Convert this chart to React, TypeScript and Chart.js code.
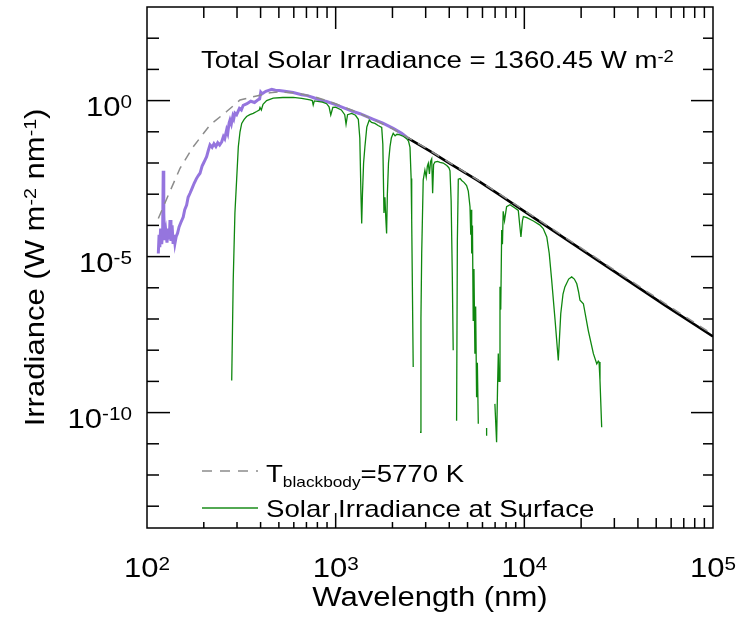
import React, { useEffect, useRef } from "react";
import { Chart, registerables } from "chart.js";

Chart.register(...registerables);

// ---- Data (in log10 units of nm and W m^-2 nm^-1) ----
const toaLog10Wavelength = [
  2.060, 2.064, 2.068, 2.072, 2.078, 2.083, 2.086, 2.089, 2.093, 2.100, 2.106, 2.112, 2.118, 2.122,
  2.127, 2.133, 2.138, 2.143, 2.148, 2.155, 2.162, 2.170, 2.180, 2.192, 2.200, 2.210, 2.218, 2.228,
  2.240, 2.250, 2.262, 2.272, 2.281, 2.292, 2.300, 2.308, 2.316, 2.325, 2.334, 2.345, 2.355, 2.365,
  2.375, 2.385, 2.396, 2.405, 2.412, 2.422, 2.428, 2.435, 2.440, 2.447, 2.455, 2.460, 2.466, 2.475,
  2.490, 2.500, 2.510, 2.530, 2.550, 2.570, 2.590, 2.597, 2.603, 2.610, 2.630, 2.645, 2.661, 2.680,
  2.700, 2.730, 2.775, 2.820, 2.850, 2.880, 2.917, 2.952, 3.000, 3.050, 3.093, 3.129, 3.200, 3.250,
  3.305, 3.350, 3.385,
];
const toaLog10Irradiance = [
  -4.90, -4.30, -4.70, -4.10, -4.60, -4.20, -2.25, -3.60, -4.47, -4.20, -4.55, -4.10, -4.45, -3.83,
  -4.50, -4.00, -4.55, -4.30, -4.58, -4.35, -4.25, -4.05, -3.90, -3.73, -3.50, -3.35, -3.10, -2.97,
  -2.80, -2.65, -2.50, -2.40, -2.33, -2.10, -2.00, -1.90, -1.80, -1.60, -1.42, -1.50, -1.38, -1.47,
  -1.35, -1.42, -1.32, -1.15, -1.22, -0.94, -1.05, -0.72, -0.62, -0.75, -0.50, -0.58, -0.40, -0.45,
  -0.25, -0.30, -0.15, -0.10, -0.02, -0.06, 0.03, 0.05, 0.27, 0.22, 0.30, 0.33, 0.36, 0.33,
  0.32, 0.30, 0.26, 0.19, 0.16, 0.10, 0.02, -0.03, -0.13, -0.25, -0.35, -0.42, -0.60, -0.72,
  -0.89, -1.05, -1.21,
];

const extLog10Wavelength = [3.385, 3.5, 3.606, 3.75, 3.871, 4.0, 4.25, 4.5, 4.75, 5.0];
const extLog10Irradiance = [-1.21, -1.62, -2.02, -2.55, -3.03, -3.55, -4.56, -5.57, -6.58, -7.56];

const bbLog10Wavelength = [
  2.060, 2.113, 2.175, 2.245, 2.334, 2.422, 2.493, 2.581, 2.652, 2.700, 2.800, 2.900, 3.000,
  3.100, 3.200, 3.300, 3.385, 3.500, 3.606, 3.750, 3.871, 4.000, 4.250, 4.500, 4.750, 5.000,
];
const bbLog10Irradiance = [
  -3.78, -3.03, -2.17, -1.48, -0.78, -0.35, 0.02, 0.15, 0.25, 0.28, 0.24, 0.10, -0.10,
  -0.34, -0.61, -0.90, -1.19, -1.60, -2.00, -2.53, -3.00, -3.52, -4.52, -5.52, -6.52, -7.50,
];

const surfaceLog10Wavelength = [
  2.449, 2.457, 2.466, 2.475, 2.484, 2.493, 2.502, 2.515, 2.528, 2.545, 2.563, 2.581, 2.595, 2.599,
  2.606, 2.615, 2.634, 2.669, 2.720, 2.775, 2.820, 2.864, 2.876, 2.881, 2.887, 2.930, 2.952, 2.965,
  2.974, 2.985, 3.000, 3.030, 3.048, 3.055, 3.063, 3.085, 3.105, 3.120, 3.128, 3.134, 3.138, 3.142,
  3.148, 3.155, 3.165, 3.178, 3.190, 3.208, 3.225, 3.244, 3.250, 3.256, 3.261, 3.266, 3.270, 3.274,
  3.280, 3.288, 3.295, 3.305, 3.315, 3.325, 3.341, 3.360, 3.376, 3.386, 3.394, 3.400, 3.403, 3.411,
  3.430, 3.447, 3.452, 3.456, 3.464, 3.473, 3.480, 3.486, 3.491, 3.497, 3.503, 3.509, 3.514, 3.519,
  3.526, 3.540, 3.553, 3.570, 3.589, 3.600, 3.606, 3.612, 3.618, 3.623, 3.632, 3.641, 3.645, 3.650,
  3.660, 3.668, 3.680, 3.694, 3.703, 3.712, 3.716, 3.719, 3.721, 3.725, 3.729, 3.733, 3.738, 3.742,
  3.747, 3.751, 3.756, 3.780, 3.800, 3.8001, 3.820, 3.844, 3.853, 3.858, 3.862, 3.866, 3.871, 3.875,
  3.880, 3.884, 3.888, 3.895, 3.906, 3.924, 3.950, 3.968, 3.975, 3.982, 3.990, 3.995, 4.013, 4.048,
  4.083, 4.100, 4.119, 4.132, 4.145, 4.163, 4.180, 4.193, 4.205, 4.215, 4.235, 4.251, 4.265, 4.278,
  4.288, 4.295, 4.313, 4.339, 4.366, 4.384, 4.392, 4.396, 4.401, 4.410,
];
const surfaceLog10Irradiance = [
  -8.97, -5.76, -3.60, -2.55, -1.48, -1.00, -0.73, -0.60, -0.51, -0.45, -0.41, -0.35, -0.30, -0.22,
  -0.30, -0.12, 0.00, 0.08, 0.10, 0.10, 0.07, 0.02, 0.00, -0.14, -0.01, -0.05, -0.10, -0.20,
  -0.46, -0.22, -0.21, -0.30, -0.45, -0.76, -0.45, -0.41, -0.47, -0.60, -1.20, -3.00, -3.94, -3.00,
  -2.00, -1.48, -0.85, -0.62, -0.70, -0.73, -0.80, -0.86, -1.40, -3.60, -3.10, -3.80, -4.26, -3.00,
  -2.00, -1.48, -1.20, -1.05, -1.13, -1.08, -1.10, -1.15, -1.22, -1.30, -1.50, -2.50, -3.83, -8.54,
  null, -10.63, -7.00, -4.90, -2.55, -2.23, -2.45, -2.10, -2.01, -2.35, -1.95, -1.87, -2.97, -2.05,
  -1.97, -1.95, -1.98, -2.00, -2.08, -2.15, -2.25, -3.20, -5.50, -8.00, null, -10.26, -4.50, -2.52,
  -2.50, -2.56, -2.62, -2.72, -2.90, -3.40, -4.30, -3.50, -4.90, -4.00, -7.04, -5.40, -8.11, -6.60,
  -9.51, -8.40, -10.36, null, -10.49, -10.74, null, -9.72, -10.95, -9.20, -8.11, -9.00, -5.97, -6.70,
  -4.15, -4.60, -3.55, -3.85, -3.40, -3.34, -3.44, -3.52, -3.95, -4.37, -3.85, -3.72, -3.75, -3.86,
  -3.99, -4.10, -4.37, -4.90, -5.76, -7.04, -8.33, -6.83, -6.20, -5.97, -5.72, -5.65, -5.72, -5.87,
  -6.15, -6.40, -6.51, -7.37, -8.11, -8.44, -8.35, -8.38, -8.97, -10.47,
];

const xDecades = [2, 3, 4, 5];
const yDecades = [-13, -12, -11, -10, -9, -8, -7, -6, -5, -4, -3, -2, -1, 0, 1, 2, 3];
const yLabelDecades = [0, -5, -10];

const titleText = "Total Solar Irradiance = 1360.45 W m";
const titleExp = "-2";
const legendBBMain = "T";
const legendBBSub = "blackbody";
const legendBBTail = "=5770 K";
const legendSurface = "Solar Irradiance at Surface";

// ---- drawing helpers ----
const FONT = '"Liberation Sans", Arial, Helvetica, sans-serif';
const SX = 1.15;

type Part = { t: string; size: number; dy?: number };

function partWidth(ctx: CanvasRenderingContext2D, p: Part) {
  ctx.font = `${p.size}px ${FONT}`;
  return ctx.measureText(p.t).width * SX;
}

function drawRich(
  ctx: CanvasRenderingContext2D,
  parts: Part[],
  x: number,
  y: number,
  align: "left" | "center" | "right"
) {
  const w = parts.reduce((s, p) => s + partWidth(ctx, p), 0);
  let cx = align === "left" ? x : align === "center" ? x - w / 2 : x - w;
  for (const p of parts) {
    const pw = partWidth(ctx, p);
    ctx.save();
    ctx.translate(cx, y + (p.dy || 0));
    ctx.scale(SX, 1);
    ctx.textAlign = "left";
    ctx.textBaseline = "alphabetic";
    ctx.fillText(p.t, 0, 0);
    ctx.restore();
    cx += pw;
  }
}

function seg(ctx: CanvasRenderingContext2D, x1: number, y1: number, x2: number, y2: number) {
  ctx.beginPath();
  ctx.moveTo(x1, y1);
  ctx.lineTo(x2, y2);
  ctx.stroke();
}

const toPoints = (lx: number[], ly: (number | null)[]) =>
  lx.map((v, i) => ({ x: Math.pow(10, v), y: ly[i] === null ? null : Math.pow(10, ly[i] as number) }));

const decorPlugin = {
  id: "decor",
  afterDatasetsDraw(chart: any) {
    const { ctx, chartArea: a, scales } = chart;
    const xs = scales.x;
    const ys = scales.y;
    ctx.save();
    ctx.strokeStyle = "#000";
    ctx.fillStyle = "#000";
    ctx.lineWidth = 1.5;
    ctx.strokeRect(a.left, a.top, a.right - a.left, a.bottom - a.top);

    // y ticks (inward on both sides)
    for (const e of yDecades) {
      const py = ys.getPixelForValue(Math.pow(10, e));
      if (py <= a.top + 1 || py >= a.bottom - 1) continue;
      const major = yLabelDecades.includes(e);
      seg(ctx, a.left, py, a.left + (major ? 23 : 12), py);
      seg(ctx, a.right - (major ? 22 : 10), py, a.right, py);
    }
    // x ticks
    for (const e of xDecades) {
      for (let m = 1; m < 10; m++) {
        const v = m * Math.pow(10, e);
        const px = xs.getPixelForValue(v);
        if (px <= a.left + 1 || px >= a.right - 1) continue;
        const major = m === 1;
        const botLen = major ? 15 : e === 4 ? 10 : 6;
        seg(ctx, px, a.top, px, a.top + (major ? 22 : 11));
        seg(ctx, px, a.bottom - botLen, px, a.bottom);
      }
    }

    // tick labels
    for (const e of xDecades) {
      const px = xs.getPixelForValue(Math.pow(10, e));
      drawRich(ctx, [{ t: "10", size: 27 }, { t: String(e), size: 18, dy: -7 }], px, a.bottom + 49, "center");
    }
    for (const e of yLabelDecades) {
      const py = ys.getPixelForValue(Math.pow(10, e));
      drawRich(ctx, [{ t: "10", size: 27 }, { t: String(e), size: 18, dy: -8 }], 132, py + 15, "right");
    }

    // axis titles
    drawRich(ctx, [{ t: "Wavelength (nm)", size: 27 }], (a.left + a.right) / 2, 606, "center");
    ctx.save();
    ctx.translate(44, (a.top + a.bottom) / 2);
    ctx.rotate(-Math.PI / 2);
    drawRich(
      ctx,
      [
        { t: "Irradiance (W m", size: 27 },
        { t: "-2", size: 17, dy: -8 },
        { t: " nm", size: 27 },
        { t: "-1", size: 17, dy: -8 },
        { t: ")", size: 27 },
      ],
      0,
      0,
      "center"
    );
    ctx.restore();

    // in-plot title
    drawRich(ctx, [{ t: titleText, size: 24 }, { t: titleExp, size: 16, dy: -6 }], 201, 68, "left");

    // legend
    ctx.strokeStyle = "#8c8c8c";
    ctx.lineWidth = 1.5;
    ctx.setLineDash([10, 8]);
    seg(ctx, 202, 471, 258, 471);
    ctx.setLineDash([]);
    ctx.strokeStyle = "#1a8c1a";
    ctx.lineWidth = 1.5;
    seg(ctx, 202, 508, 258, 508);
    ctx.fillStyle = "#000";
    drawRich(
      ctx,
      [
        { t: legendBBMain, size: 24 },
        { t: legendBBSub, size: 15, dy: 4.5 },
        { t: legendBBTail, size: 24 },
      ],
      266,
      482,
      "left"
    );
    drawRich(ctx, [{ t: legendSurface, size: 24 }], 266, 516.5, "left");
    ctx.restore();
  },
};

export default function App() {
  const ref = useRef<HTMLCanvasElement>(null);
  useEffect(() => {
    const chart = new Chart(ref.current as HTMLCanvasElement, {
      type: "line",
      data: {
        datasets: [
          {
            label: "Blackbody",
            data: toPoints(bbLog10Wavelength, bbLog10Irradiance),
            borderColor: "#8c8c8c",
            borderWidth: 1.5,
            borderDash: [9, 7],
            pointRadius: 0,
            order: 0,
          },
          {
            label: "Surface",
            data: toPoints(surfaceLog10Wavelength, surfaceLog10Irradiance),
            borderColor: "#0f870f",
            borderWidth: 1.3,
            pointRadius: 0,
            spanGaps: false,
            order: 1,
          },
          {
            label: "Extension",
            data: toPoints(extLog10Wavelength, extLog10Irradiance),
            borderColor: "#000000",
            borderWidth: 2.6,
            pointRadius: 0,
            order: 2,
          },
          {
            label: "Top of atmosphere",
            data: toPoints(toaLog10Wavelength, toaLog10Irradiance),
            borderColor: "#9575de",
            borderWidth: 3,
            pointRadius: 0,
            order: 3,
          },
        ] as any,
      },
      options: {
        responsive: false,
        animation: false,
        devicePixelRatio: 1,
        layout: { padding: { left: 147, right: 24, top: 7, bottom: 91 } },
        plugins: {
          legend: { display: false },
          tooltip: { enabled: false },
          title: { display: false },
        },
        elements: { line: { tension: 0 }, point: { radius: 0 } },
        scales: {
          x: { type: "logarithmic", min: 100, max: 100000, display: false },
          y: { type: "logarithmic", min: 2e-14, max: 1000, display: false },
        },
      } as any,
      plugins: [decorPlugin],
    });
    return () => chart.destroy();
  }, []);
  return (
    <div style={{ position: "fixed", left: 0, top: 0, width: 737, height: 619, background: "#fff" }}>
      <canvas ref={ref} width={737} height={619} style={{ display: "block" }} />
    </div>
  );
}
